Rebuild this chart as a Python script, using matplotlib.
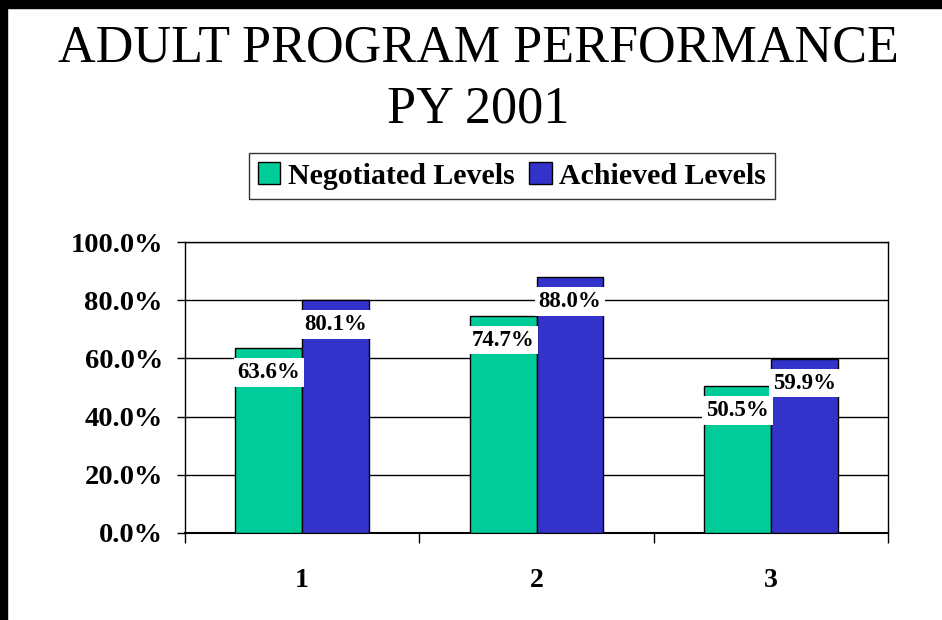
import matplotlib

matplotlib.use("Agg")
import matplotlib.pyplot as plt
from matplotlib.patches import Rectangle
import numpy as np

# Chart data
categories = ["1", "2", "3"]
negotiated = [63.6, 74.7, 50.5]
achieved = [80.1, 88.0, 59.9]
series_names = ["Negotiated Levels", "Achieved Levels"]
y_ticks = [0, 20, 40, 60, 80, 100]

GREEN = "#00CC99"
BLUE = "#3333CC"
SERIF = ["Liberation Serif", "DejaVu Serif"]

fig = plt.figure(figsize=(9.42, 6.2), dpi=100)
fig.patch.set_facecolor("white")

# Thick black frame on the top and left edges of the slide
fig.patches.append(Rectangle((0, 1 - 8 / 620), 1, 8 / 620, transform=fig.transFigure,
                             color="black", zorder=10))
fig.patches.append(Rectangle((0, 0), 7 / 942, 1, transform=fig.transFigure,
                             color="black", zorder=10))

fig.text(0.508, 0.922, "ADULT PROGRAM PERFORMANCE", ha="center", va="center",
         fontsize=37.5, family=SERIF)
fig.text(0.508, 0.823, "PY 2001", ha="center", va="center",
         fontsize=37.5, family=SERIF)

ax = fig.add_axes([185 / 942, 1 - 533 / 620, 703 / 942, 291 / 620])

x = np.arange(1, len(categories) + 1)
w = 0.285
b1 = ax.bar(x - w / 2, negotiated, w, color=GREEN, edgecolor="black", linewidth=1,
            label=series_names[0], zorder=3)
b2 = ax.bar(x + w / 2, achieved, w, color=BLUE, edgecolor="black", linewidth=1,
            label=series_names[1], zorder=3)

# value labels sit inside the top of each bar on a white box
for bars, vals in ((b1, negotiated), (b2, achieved)):
    for rect, v in zip(bars, vals):
        ax.annotate(f"{v:.1f}%", (rect.get_x() + rect.get_width() / 2, v),
                    xytext=(0, -10), textcoords="offset points", ha="center", va="top",
                    fontsize=16.5, fontweight="bold", family=SERIF, zorder=5,
                    bbox=dict(boxstyle="square,pad=0.17", fc="white", ec="none"))

ax.set_xlim(0.5, 3.5)
ax.set_ylim(0, 100)
ax.set_yticks(y_ticks)
ax.set_yticklabels([f"{t:.1f}%" for t in y_ticks], fontsize=20.5, fontweight="bold",
                   family=SERIF)
ax.yaxis.grid(True, color="black", linewidth=1, zorder=0)
ax.set_axisbelow(True)

ax.set_xticks([0.5, 1.5, 2.5, 3.5])
ax.set_xticklabels([])
ax.set_xticks(x, minor=True)
ax.set_xticklabels(categories, minor=True, fontsize=20, fontweight="bold", family=SERIF)
ax.tick_params(axis="x", which="major", direction="out", length=7, width=1, color="black")
ax.tick_params(axis="x", which="minor", length=0, pad=25)
ax.tick_params(axis="y", direction="out", length=6, width=1, pad=10)

for s in ax.spines.values():
    s.set_color("black")
    s.set_linewidth(1)
ax.spines["bottom"].set_linewidth(1.5)

leg = fig.legend(handles=[b1, b2], loc="center", bbox_to_anchor=(512 / 942, 1 - 176 / 620),
                 ncol=2, frameon=True, fancybox=False, edgecolor="black",
                 handlelength=0.75, handleheight=0.75, handletextpad=0.25,
                 columnspacing=0.5, borderpad=0.3, borderaxespad=0,
                 prop={"family": SERIF, "weight": "bold", "size": 21.5})
leg.get_frame().set_linewidth(1)

fig.savefig("out.png", dpi=100)
